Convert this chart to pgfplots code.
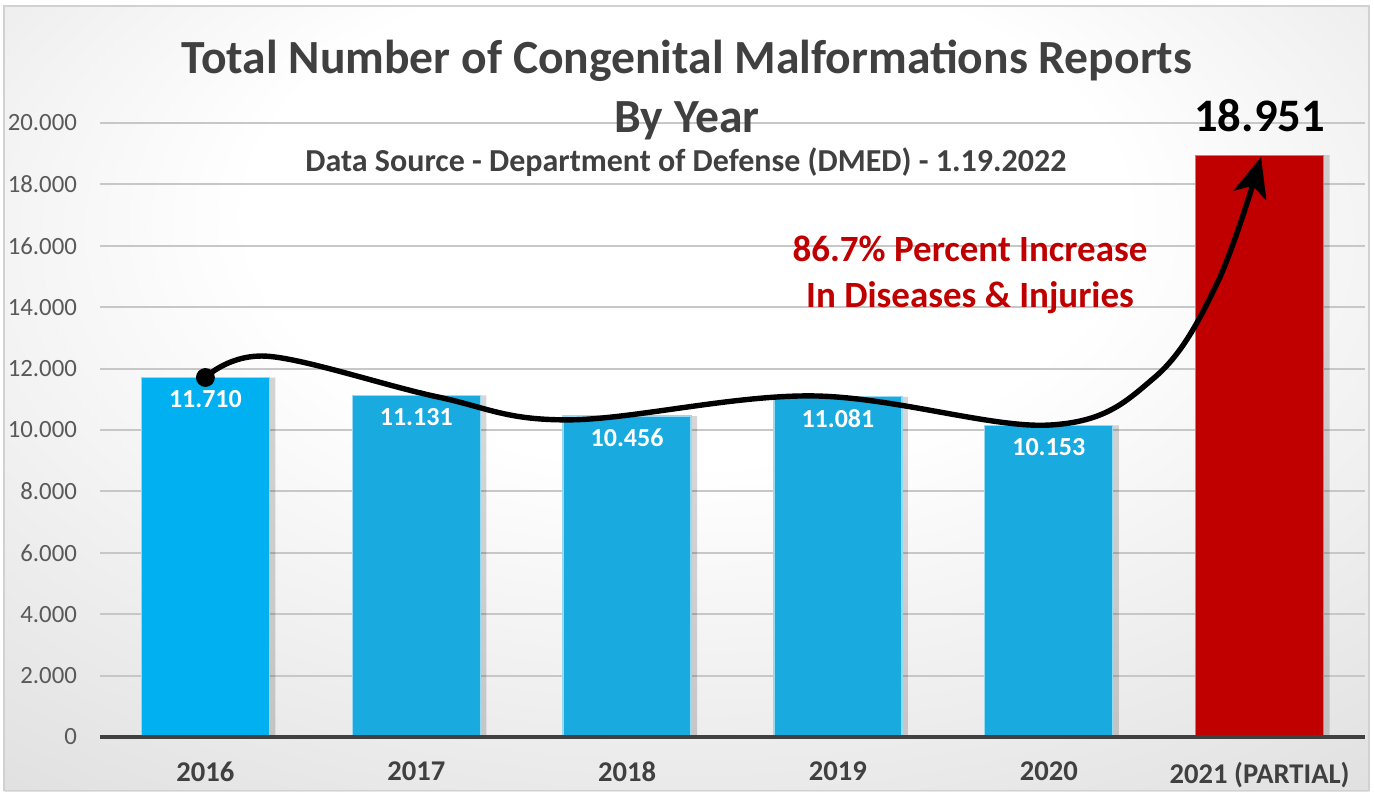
\documentclass[border=0pt]{standalone}
\usepackage{pgfplots}
\pgfplotsset{compat=1.18}
\usepackage{fontspec}
\setmainfont{Carlito}
\usetikzlibrary{arrows.meta}
\definecolor{bar1}{HTML}{00B0F0}
\definecolor{bar2}{HTML}{19AADF}
\definecolor{barred}{HTML}{C00000}
\definecolor{txt}{HTML}{404040}
\definecolor{ytxt}{HTML}{595959}
\pgfdeclareradialshading{bgshade}{\pgfpoint{0bp}{15bp}}{color(0bp)=(white); color(16bp)=(white); color(55bp)=(black!19); color(75bp)=(black!26)}
\begin{document}
\begin{tikzpicture}
\fill[white] (0pt,0pt) rectangle (687pt,395.5pt);
\shade[shading=bgshade] (2pt,0pt) rectangle (684.5pt,392.5pt);
\draw[black!18, line width=0.6pt] (2pt,0.3pt) rectangle (684.5pt,392.5pt);
\begin{axis}[
  at={(50pt,27pt)}, anchor=south west,
  scale only axis, width=632.5pt, height=307pt,
  xmin=-0.5, xmax=5.5, ymin=0, ymax=20000,
  clip=false,
  scaled y ticks=false,
  axis line style={draw=none},
  major tick length=0pt,
  xtick={0,1,2,3,4,5},
  xticklabels={2016,2017,2018,2019,2020,2021 (PARTIAL)},
  xticklabel style={font=\fontsize{14.3}{16}\selectfont\bfseries, text=txt, yshift=-9pt},
  ytick={0,2000,4000,6000,8000,10000,12000,14000,16000,18000,20000},
  yticklabels={0,2.000,4.000,6.000,8.000,10.000,12.000,14.000,16.000,18.000,20.000},
  yticklabel style={font=\fontsize{12.4}{14}\selectfont, text=ytxt, xshift=-8pt},
  ymajorgrids, major grid style={line width=1pt, color=black!22},
]
% shadows
\addplot[ybar, bar width=64pt, bar shift=3pt, fill=black, fill opacity=0.16, draw=none]
  coordinates {(0,11710) (1,11131) (2,10456) (3,11081) (4,10153) (5,18951)};
% bars
\addplot[ybar, bar width=64pt, bar shift=0pt, fill=bar1, draw=bar1!45!white, line width=0.6pt,
  nodes near coords, point meta=explicit symbolic,
  every node near coord/.append style={anchor=center, yshift=-11pt, text=white, font=\fontsize{13}{15}\selectfont\bfseries}]
  coordinates {(0,11710) [11.710]};
\addplot[ybar, bar width=64pt, bar shift=0pt, fill=bar2, draw=bar2!45!white, line width=0.6pt,
  nodes near coords, point meta=explicit symbolic,
  every node near coord/.append style={anchor=center, yshift=-11pt, text=white, font=\fontsize{13}{15}\selectfont\bfseries}]
  coordinates {(1,11131) [11.131] (2,10456) [10.456] (3,11081) [11.081] (4,10153) [10.153]};
\addplot[ybar, bar width=64pt, bar shift=0pt, fill=barred, draw=barred!55!white, line width=0.6pt,
  nodes near coords, point meta=explicit symbolic,
  every node near coord/.append style={anchor=base, yshift=12pt, text=black, font=\fontsize{23.3}{26}\selectfont\bfseries}]
  coordinates {(5,18951) [18.951]};
% axis line
\draw[txt, line width=2pt] (axis cs:-0.5,0) -- (axis cs:5.5,0);
% trend curve
\addplot[smooth, tension=0.6, line width=2.7pt, black, -{Stealth[length=20pt,width=17pt,inset=5pt]}]
  coordinates {(0,11710) (0.3,12400) (1.1,11080) (1.72,10330) (2.88,11110)
  (4.0,10160) (4.5,11700) (4.8,14800) (5.007,18893)};
\addplot[only marks, mark=*, mark size=4.5pt, black] coordinates {(0,11710)};
\end{axis}
\node[anchor=base, text=txt, font=\fontsize{23.8}{28}\selectfont\bfseries] at (343.5pt,358.5pt) {Total Number of Congenital Malformations Reports};
\node[anchor=base, text=txt, font=\fontsize{23.8}{28}\selectfont\bfseries] at (343.5pt,329pt) {By Year};
\node[anchor=base, text=txt, font=\fontsize{16}{19}\selectfont\bfseries] at (343pt,309.5pt) {Data Source - Department of Defense (DMED) - 1.19.2022};
\node[anchor=base, text=barred, font=\fontsize{18.5}{22}\selectfont\bfseries] at (485pt,264.5pt) {86.7\% Percent Increase};
\node[anchor=base, text=barred, font=\fontsize{18.5}{22}\selectfont\bfseries] at (485pt,241.5pt) {In Diseases \& Injuries};
\end{tikzpicture}
\end{document}
